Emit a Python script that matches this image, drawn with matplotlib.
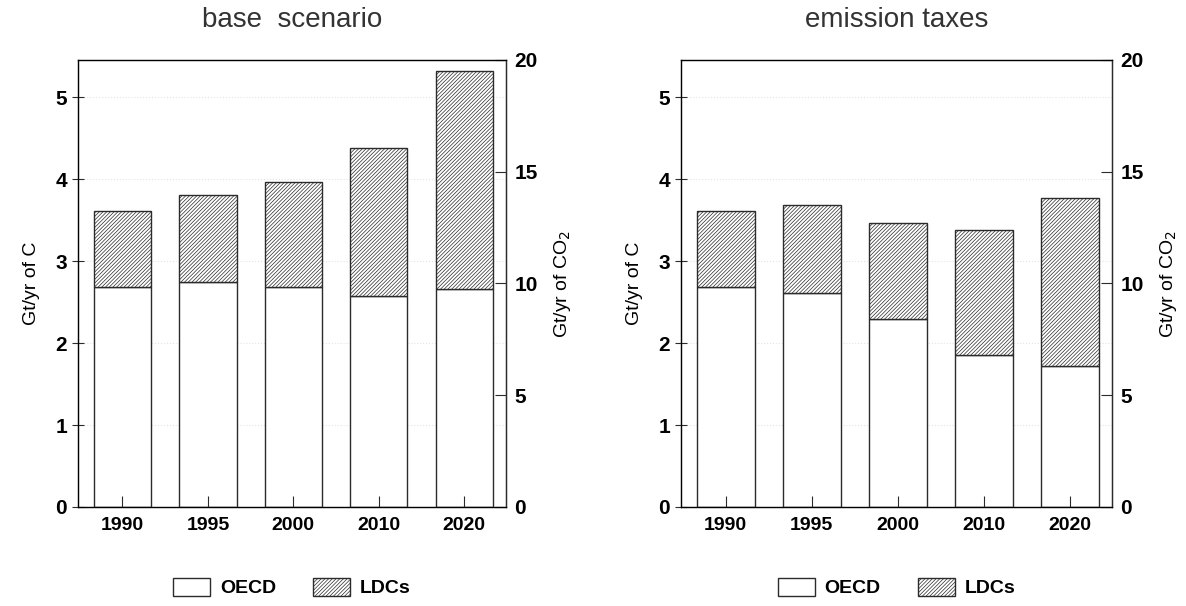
import numpy as np
import matplotlib
matplotlib.use("Agg")
import matplotlib.pyplot as plt
from matplotlib.patches import Patch

plt.rcParams["font.family"] = ["Liberation Sans", "DejaVu Sans"]
plt.rcParams["hatch.linewidth"] = 0.5

years = ["1990", "1995", "2000", "2010", "2020"]

# Gt/yr of C
base_oecd = [2.68, 2.74, 2.69, 2.57, 2.66]
base_total = [3.61, 3.81, 3.96, 4.38, 5.32]
tax_oecd = [2.68, 2.61, 2.30, 1.86, 1.72]
tax_total = [3.61, 3.68, 3.46, 3.38, 3.77]

titles = ["base  scenario", "emission taxes"]
C_TO_CO2 = 44.0 / 12.0
INK = "#2b2b2b"
HATCH = "/////////"

fig = plt.figure(figsize=(11.86, 6.06), dpi=100)
axes = [fig.add_axes([0.0658, 0.1634, 0.3609, 0.7376]),
        fig.add_axes([0.5742, 0.1634, 0.3634, 0.7376])]

panels = [(base_oecd, base_total), (tax_oecd, tax_total)]
for ax, (oecd, total), title in zip(axes, panels, titles):
    x = np.arange(len(years))
    ldc = np.array(total) - np.array(oecd)
    ax.bar(x, oecd, width=0.67, color="white", edgecolor=INK, linewidth=1.0)
    ax.bar(x, ldc, bottom=oecd, width=0.67, color="white", edgecolor=INK,
           linewidth=1.0, hatch=HATCH)
    ax.set_xlim(-0.52, 4.49)
    ax.set_ylim(0, 20 / C_TO_CO2)
    ax.set_yticks([0, 1, 2, 3, 4, 5])
    ax.set_xticks(x)
    ax.set_xticklabels(years, fontweight="bold", fontsize=14)
    for lab in ax.get_yticklabels():
        lab.set_fontweight("bold")
        lab.set_fontsize(15)
    ax.tick_params(axis="x", direction="in", length=8, color=INK, pad=7)
    ax.tick_params(axis="y", direction="inout", length=8, color=INK, pad=4)
    for y in [1, 2, 3, 4, 5]:
        ax.axhline(y, color="#e4e4e4", lw=0.8, ls=":", zorder=0)
    for s in ax.spines.values():
        s.set_color(INK)
        s.set_linewidth(1.0)
    ax.set_ylabel("Gt/yr of C", fontsize=14, labelpad=11)
    ax.set_title(title, fontsize=20, pad=24, color="#333333")

    ax2 = ax.twinx()
    ax2.set_ylim(0, 20)
    ax2.set_yticks([0, 5, 10, 15, 20])
    for lab in ax2.get_yticklabels():
        lab.set_fontweight("bold")
        lab.set_fontsize(15)
    ax2.tick_params(axis="y", direction="in", length=8, color=INK, pad=6)
    ax2.spines["right"].set_color(INK)
    ax2.set_ylabel("Gt/yr of CO$_2$", fontsize=14, labelpad=10)

    handles = [Patch(facecolor="white", edgecolor=INK, label="OECD"),
               Patch(facecolor="white", edgecolor=INK, hatch=HATCH, label="LDCs")]
    ax.legend(handles=handles, loc="upper center", bbox_to_anchor=(0.5, -0.12),
              ncol=2, frameon=False, prop={"weight": "bold", "size": 14},
              handlelength=1.9, handleheight=1.0, handletextpad=0.5,
              columnspacing=1.9)

fig.savefig("out.png", dpi=100)
